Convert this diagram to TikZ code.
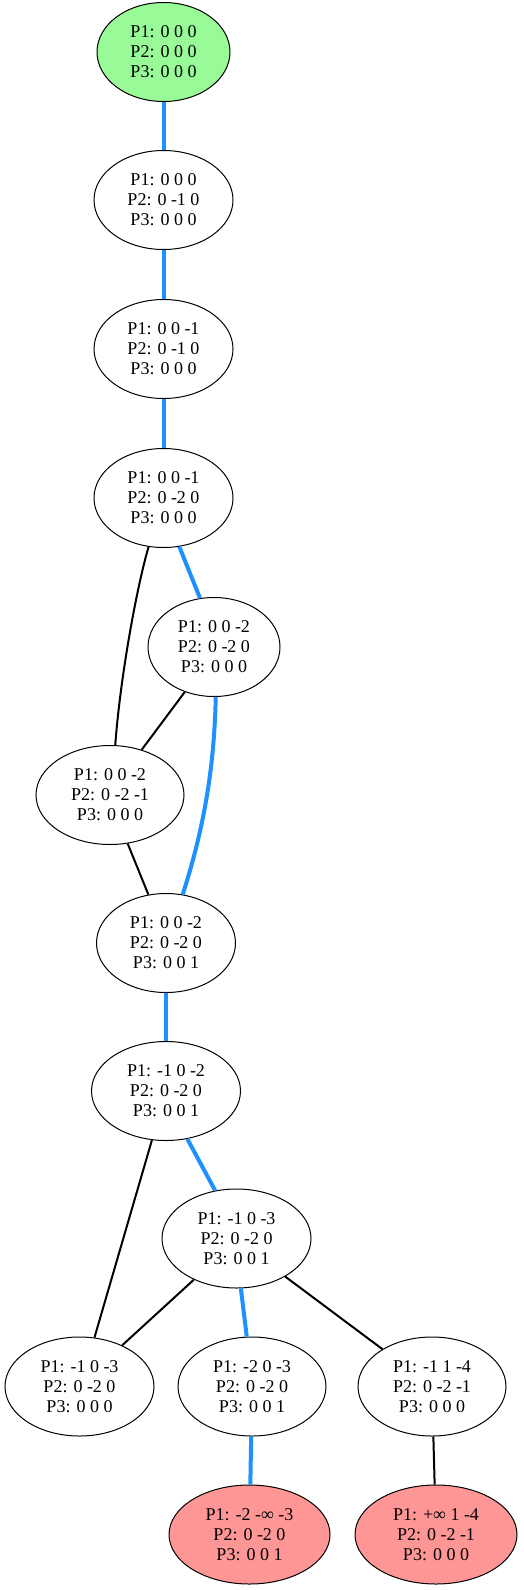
\documentclass[tikz,border=0pt]{standalone}
\usepackage{fontspec}
\setmainfont{Liberation Serif}
\usetikzlibrary{shapes.geometric}
\definecolor{gvblue}{HTML}{1E90FF}
\definecolor{gvgreen}{HTML}{98FB98}
\definecolor{gvred}{HTML}{FF9696}
\begin{document}
\begin{tikzpicture}[x=1pt,y=-1pt,
  st/.style={ellipse,draw=black,line width=1pt,inner sep=0pt,minimum height=99pt,align=center,font=\fontsize{18}{20}\selectfont},
  bl/.style={draw=gvblue,line width=4pt},
  bk/.style={draw=black,line width=2pt}]
\useasboundingbox (0,0) rectangle (524,1590);
\node[st,fill=gvgreen,minimum width=133pt] (n0) at (163.5,52) {P1: 0 0 0\\P2: 0 0 0\\P3: 0 0 0};
\node[st,minimum width=139pt] (n1) at (163.5,200) {P1: 0 0 0\\P2: 0 -1 0\\P3: 0 0 0};
\node[st,minimum width=139pt] (n2) at (163.5,349) {P1: 0 0 -1\\P2: 0 -1 0\\P3: 0 0 0};
\node[st,minimum width=139pt] (n3) at (163.5,498) {P1: 0 0 -1\\P2: 0 -2 0\\P3: 0 0 0};
\node[st,minimum width=132pt] (n4) at (214,647) {P1: 0 0 -2\\P2: 0 -2 0\\P3: 0 0 0};
\node[st,minimum width=148pt] (n5) at (110,795) {P1: 0 0 -2\\P2: 0 -2 -1\\P3: 0 0 0};
\node[st,minimum width=139pt] (n6) at (166,943) {P1: 0 0 -2\\P2: 0 -2 0\\P3: 0 0 1};
\node[st,minimum width=149pt] (n7) at (166,1091) {P1: -1 0 -2\\P2: 0 -2 0\\P3: 0 0 1};
\node[st,minimum width=149pt] (n8) at (236.5,1238.5) {P1: -1 0 -3\\P2: 0 -2 0\\P3: 0 0 1};
\node[st,minimum width=149pt] (n9) at (79.5,1386.5) {P1: -1 0 -3\\P2: 0 -2 0\\P3: 0 0 0};
\node[st,minimum width=148pt] (n10) at (252,1386.5) {P1: -2 0 -3\\P2: 0 -2 0\\P3: 0 0 1};
\node[st,minimum width=148pt] (n11) at (432,1386.5) {P1: -1 1 -4\\P2: 0 -2 -1\\P3: 0 0 0};
\node[st,fill=gvred,minimum width=161pt] (n12) at (249.5,1534.5) {P1: -2 -∞ -3\\P2: 0 -2 0\\P3: 0 0 1};
\node[st,fill=gvred,minimum width=162pt] (n13) at (436,1534.5) {P1: +∞ 1 -4\\P2: 0 -2 -1\\P3: 0 0 0};
\draw[bl] (n0) -- (n1);
\draw[bl] (n1) -- (n2);
\draw[bl] (n2) -- (n3);
\draw[bl] (n3.-72) -- (n4.106);
\draw[bk] (n3.-107) .. controls (136,590) and (120,680) .. (n5.84);
\draw[bk] (n4.-123) -- (n5.55);
\draw[bl] (n4.-88) .. controls (214,780) and (200,840) .. (n6.71);
\draw[bk] (n5.-70) -- (n6.110);
\draw[bl] (n6) -- (n7);
\draw[bl] (n7.-66) -- (n8.114);
\draw[bk] (n7.-106) -- (n9.73);
\draw[bk] (n8.-136) -- (n9.44);
\draw[bl] (n8.-85) -- (n10.96);
\draw[bk] (n8.-38) -- (n11.143);
\draw[bl] (n10) -- (n12);
\draw[bk] (n11) -- (n13);
\end{tikzpicture}
\end{document}
